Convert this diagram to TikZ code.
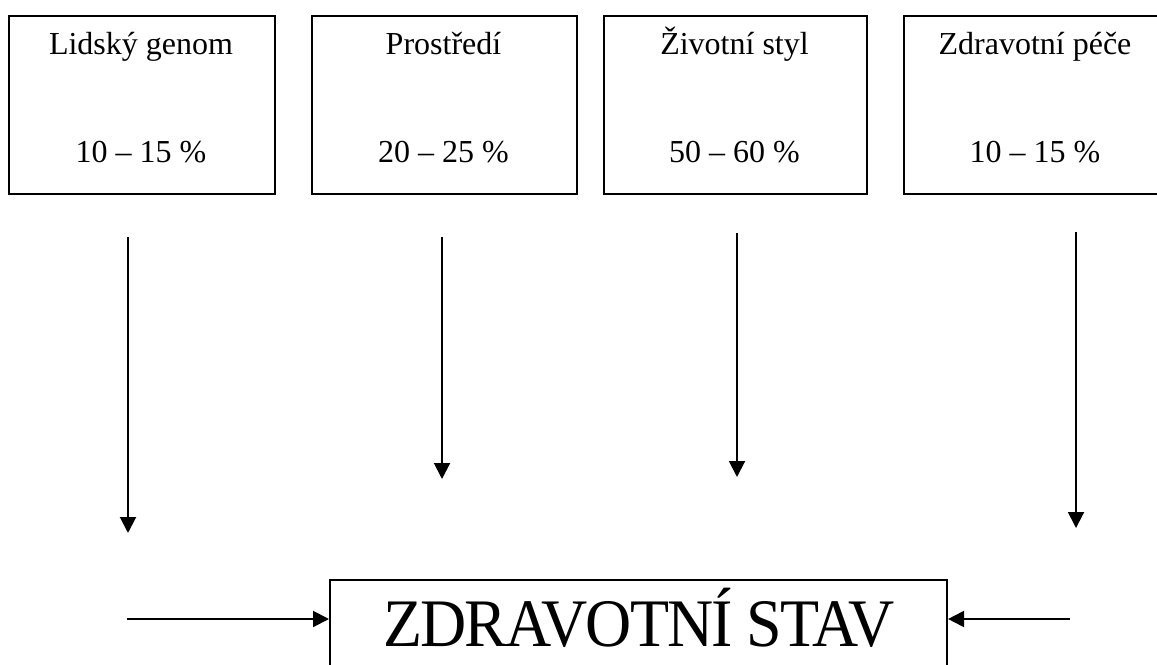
\documentclass[tikz,border=0pt]{standalone}
\usepackage{fontspec}
\setmainfont{Liberation Serif}
\newfontfamily\bigfont[LetterSpace=-3]{Liberation Serif}
\usetikzlibrary{arrows.meta}
\begin{document}
\begin{tikzpicture}[x=0.375pt,y=-0.375pt,
  box/.style={draw,line width=0.75pt,inner sep=0pt,anchor=north west},
  lbl/.style={anchor=base,inner sep=0pt,font=\fontsize{12}{14}\selectfont},
  big/.style={anchor=base,inner sep=0pt,font=\bigfont\fontsize{25.5}{30}\selectfont},
  arr/.style={line width=0.75pt,-{Triangle[length=6pt,width=6pt]}}]
\useasboundingbox (0,0) rectangle (1157,665);
% top boxes
\node[box,minimum width=99.75pt,minimum height=66.75pt] (b1) at (8,15) {};
\node[box,minimum width=99.4pt,minimum height=66.75pt] (b2) at (311,15) {};
\node[box,minimum width=98.6pt,minimum height=66.75pt] (b3) at (603,15) {};
\node[box,minimum width=99pt,minimum height=66.75pt] (b4) at (903,15) {};
% texts
\node[lbl] (t1a) at (141,55) {Lidský genom};
\node[lbl] (t1b) at (141,163) {10 – 15 \%};
\node[lbl] (t2a) at (443.5,55) {Prostředí};
\node[lbl] (t2b) at (443.5,163) {20 – 25 \%};
\node[lbl] (t3a) at (734.5,55) {Životní styl};
\node[lbl] (t3b) at (734.5,163) {50 – 60 \%};
\node[lbl] (t4a) at (1035,55) {Zdravotní péče};
\node[lbl] (t4b) at (1035,163) {10 – 15 \%};
% bottom box
\node[box,minimum width=231.4pt,minimum height=40pt] (zs) at (329,579) {};
\node[big] (zst) at (639,646) {\scalebox{0.94}[1]{ZDRAVOTNÍ STAV}};
% arrow ends
\coordinate (a1s) at (128,237); \coordinate (a1e) at (128,533);
\coordinate (a2s) at (442,237); \coordinate (a2e) at (442,479);
\coordinate (a3s) at (737,233); \coordinate (a3e) at (737,477);
\coordinate (a4s) at (1076,232); \coordinate (a4e) at (1076,528);
\coordinate (h1s) at (127,619);
\coordinate (h2s) at (1070,619);
\draw[arr] (a1s) -- (a1e);
\draw[arr] (a2s) -- (a2e);
\draw[arr] (a3s) -- (a3e);
\draw[arr] (a4s) -- (a4e);
\draw[arr] (h1s) -- (h1s -| zs.west);
\draw[arr] (h2s) -- (h2s -| zs.east);
\end{tikzpicture}
\end{document}
